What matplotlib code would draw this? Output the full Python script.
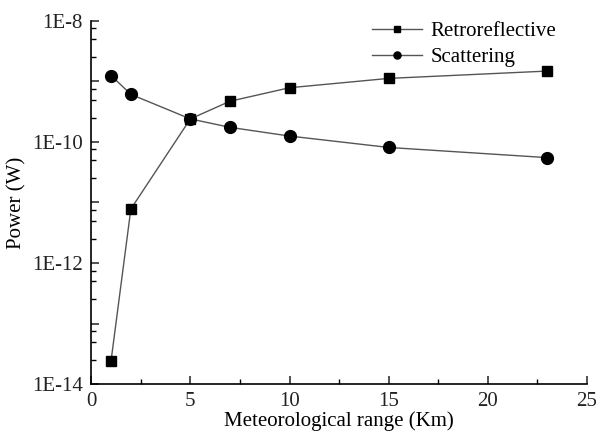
import numpy as np
import matplotlib
matplotlib.use("Agg")
import matplotlib.pyplot as plt
from matplotlib.ticker import FixedLocator, LogLocator, NullFormatter, MultipleLocator

plt.rcParams["font.family"] = ["Liberation Serif", "DejaVu Serif"]

# meteorological range (Km)
met_range = [1, 2, 5, 7, 10, 15, 23]
# received power (W)
retro_power = [2.4e-14, 7.8e-12, 2.4e-10, 4.7e-10, 7.85e-10, 1.12e-9, 1.48e-9]
scatter_power = [1.25e-9, 6.1e-10, 2.4e-10, 1.74e-10, 1.25e-10, 8.1e-11, 5.5e-11]

fig = plt.figure(figsize=(5.96, 4.34), dpi=100)
ax = fig.add_axes([0.153, 0.115, 0.832, 0.837])

line_col = "#555555"
ax.plot(met_range, retro_power, color=line_col, lw=1.0, marker="s", ms=7.5,
        mfc="black", mec="black", label="Retroreflective")
ax.plot(met_range, scatter_power, color=line_col, lw=1.0, marker="o", ms=8.5,
        mfc="black", mec="black", label="Scattering")

ax.set_yscale("log")
ax.set_xlim(0, 25)
ax.set_ylim(1e-14, 1e-8)

ax.xaxis.set_major_locator(MultipleLocator(5))
ax.xaxis.set_minor_locator(MultipleLocator(2.5))
ytick_vals = [10.0 ** k for k in range(-14, -7)]
ax.yaxis.set_major_locator(FixedLocator(ytick_vals))
ax.yaxis.set_minor_locator(LogLocator(base=10, subs=(2.5, 5.0, 7.5)))
ax.yaxis.set_minor_formatter(NullFormatter())
ax.set_yticks(ytick_vals)
ax.set_yticklabels(["1E%d" % k if k % 2 == 0 else "" for k in range(-14, -7)])

for s in ["top", "right"]:
    ax.spines[s].set_visible(False)
for s in ["left", "bottom"]:
    ax.spines[s].set_linewidth(1.2)

ax.tick_params(which="major", direction="in", length=6, width=1.1, labelsize=15,
               colors="#222222")
ax.tick_params(which="minor", direction="in", length=3.5, width=1.0)
ax.tick_params(axis="x", pad=6)
ax.tick_params(axis="y", pad=6)

ax.set_xlabel("Meteorological range (Km)", fontsize=15, labelpad=0)
ax.set_ylabel("Power (W)", fontsize=15, labelpad=4)

leg = ax.legend(loc="upper right", bbox_to_anchor=(0.975, 1.05), frameon=False,
                fontsize=15, markerscale=0.6, handlelength=2.4,
                handletextpad=0.4, labelspacing=0.3)

fig.savefig("out.png", dpi=100)
